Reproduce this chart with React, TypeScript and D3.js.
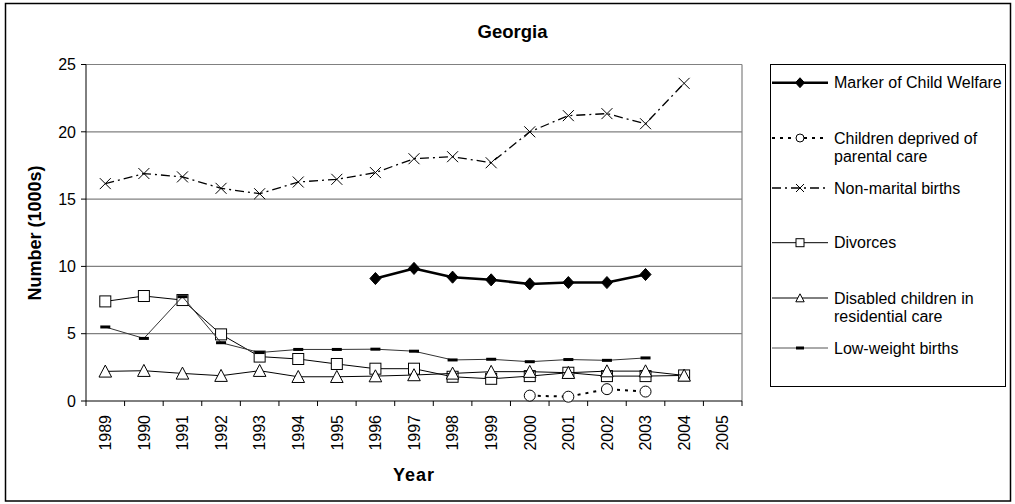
import React from 'react';
import * as d3 from 'd3';

const years = ['1989','1990','1991','1992','1993','1994','1995','1996','1997','1998','1999','2000','2001','2002','2003','2004','2005'];
const yTicks = [0, 5, 10, 15, 20, 25];

const childWelfare = [null,null,null,null,null,null,null,9.1,9.85,9.2,9.0,8.7,8.8,8.8,9.4,null,null];
const deprivedCare = [null,null,null,null,null,null,null,null,null,null,null,0.4,0.32,0.88,0.7,null,null];
const nonMarital = [16.15,16.9,16.65,15.8,15.4,16.27,16.47,16.97,18.0,18.15,17.7,20.0,21.2,21.35,20.6,23.6,null];
const divorces = [7.4,7.8,7.5,4.95,3.3,3.12,2.75,2.4,2.4,1.8,1.65,1.85,2.1,1.85,1.85,1.9,null];
const disabled = [2.2,2.25,2.05,1.88,2.25,1.8,1.8,1.85,1.93,2.05,2.18,2.18,2.1,2.22,2.22,1.9,null];
const lowWeight = [5.5,4.65,7.75,4.33,3.6,3.83,3.83,3.85,3.7,3.05,3.1,2.92,3.08,3.02,3.2,null,null];

const seriesNames = [
  ['Marker of Child Welfare'],
  ['Children deprived of', 'parental care'],
  ['Non-marital births'],
  ['Divorces'],
  ['Disabled children in', 'residential care'],
  ['Low-weight births'],
];

type Style = { width: number; dash?: string; marker: string; color: string };
const styles: Style[] = [
  { width: 2.5, marker: 'diamond', color: '#000' },
  { width: 2, dash: '3,5', marker: 'circle', color: '#000' },
  { width: 1.3, dash: '9,4,2,4', marker: 'x', color: '#000' },
  { width: 1, marker: 'square', color: '#000' },
  { width: 1, marker: 'triangle', color: '#000' },
  { width: 1, marker: 'dash', color: '#333' },
];
const seriesData = [childWelfare, deprivedCare, nonMarital, divorces, disabled, lowWeight];

const FONT = "'Liberation Sans', Arial, sans-serif";

function Marker({ kind, x, y, s }: { kind: string; x: number; y: number; s: number }) {
  switch (kind) {
    case 'diamond':
      return <path d={`M${x},${y - s * 1.1}L${x + s},${y}L${x},${y + s * 1.1}L${x - s},${y}Z`} fill="#000" stroke="#000" />;
    case 'circle':
      return <circle cx={x} cy={y} r={s} fill="#fff" stroke="#000" strokeWidth={1} />;
    case 'x':
      return <path d={`M${x - s},${y - s}L${x + s},${y + s}M${x - s},${y + s}L${x + s},${y - s}`} stroke="#000" strokeWidth={1} fill="none" />;
    case 'square':
      return <rect x={x - s} y={y - s} width={2 * s} height={2 * s} fill="#fff" stroke="#000" strokeWidth={1} />;
    case 'triangle':
      return <path d={`M${x},${y - s * 1.05}L${x + s * 1.05},${y + s * 0.95}L${x - s * 1.05},${y + s * 0.95}Z`} fill="#fff" stroke="#000" strokeWidth={1} />;
    case 'dash':
      return <rect x={x - s} y={y - 1.5} width={2 * s} height={3} fill="#000" />;
    default:
      return null;
  }
}

export default function App() {
  const W = 1015, H = 504;
  const left = 86, right = 742, top = 64.5, bottom = 401;
  const x = d3.scaleBand<string>().domain(years).range([left, right]).padding(0);
  const y = d3.scaleLinear().domain([0, 25]).range([bottom, top]);
  const bw = x.bandwidth();
  const cx = (i: number) => (x(years[i]) as number) + bw / 2;

  const line = d3.line<number | null>()
    .defined((d) => d !== null)
    .x((_, i) => cx(i))
    .y((d) => y(d as number));

  const markerSizes = [5.5, 5.5, 5.5, 5.5, 6, 5];

  const legX = 770, legY = 64, legW = 235, legH = 322;
  const legRows = [82.7, 138, 188, 242.7, 298, 348];
  const lineX1 = legX + 2, lineX2 = legX + 58, mX = legX + 30, textX = legX + 64;

  return (
    <svg width={W} height={H} style={{ position: 'absolute', left: 0, top: 0, fontFamily: FONT }}>
      <rect x={0} y={0} width={W} height={H} fill="#fff" />
      <rect x={5.5} y={3.5} width={1005} height={497.5} fill="none" stroke="#000" strokeWidth={1.5} />
      <text x={512.5} y={38} textAnchor="middle" fontSize={18.5} fontWeight="bold">Georgia</text>

      {yTicks.filter((t) => t > 0).map((t) => (
        <line key={t} x1={left} x2={right} y1={y(t)} y2={y(t)} stroke="#808080" strokeWidth={1.2} />
      ))}
      <line x1={right} x2={right} y1={top} y2={bottom} stroke="#808080" strokeWidth={1.2} />

      <line x1={left} x2={left} y1={top} y2={bottom} stroke="#000" strokeWidth={1} />
      <line x1={left} x2={right} y1={bottom} y2={bottom} stroke="#000" strokeWidth={1} />
      {yTicks.map((t) => (
        <g key={t}>
          <line x1={left - 5} x2={left} y1={y(t)} y2={y(t)} stroke="#000" />
          <text x={76} y={y(t)} dy="0.36em" textAnchor="end" fontSize={16}>{t}</text>
        </g>
      ))}
      {years.map((yr, i) => (
        <g key={yr}>
          <line x1={x(yr) as number} x2={x(yr) as number} y1={bottom} y2={bottom + 5} stroke="#000" />
          <text transform={`translate(${cx(i)},415) rotate(-90)`} dy="0.36em" textAnchor="end" fontSize={16}>{yr}</text>
        </g>
      ))}
      <line x1={right} x2={right} y1={bottom} y2={bottom + 5} stroke="#000" />

      <text x={414} y={481} textAnchor="middle" fontSize={18} fontWeight="bold" letterSpacing={1}>Year</text>
      <text transform={`translate(41,233) rotate(-90)`} textAnchor="middle" fontSize={18} fontWeight="bold">Number (1000s)</text>

      {seriesData.map((data, si) => {
        const st = styles[si];
        return (
          <g key={si}>
            <path d={line(data) || ''} fill="none" stroke={st.color} strokeWidth={st.width} strokeDasharray={st.dash} strokeLinejoin="round" />
            {data.map((v, i) => (v === null ? null : <Marker key={i} kind={st.marker} x={cx(i)} y={y(v)} s={markerSizes[si]} />))}
          </g>
        );
      })}

      <rect x={legX + 0.5} y={legY + 0.5} width={legW} height={legH} fill="#fff" stroke="#000" strokeWidth={1} />
      {seriesNames.map((names, si) => {
        const st = styles[si];
        const ly = legRows[si];
        return (
          <g key={si}>
            <line x1={lineX1} x2={lineX2} y1={ly} y2={ly} stroke={si === 5 ? '#555' : st.color} strokeWidth={st.width} strokeDasharray={st.dash} />
            <Marker kind={st.marker} x={mX} y={ly} s={si === 0 ? 4.5 : 4} />
            {names.map((n, k) => (
              <text key={k} x={textX} y={ly + k * 18.7} dy="0.36em" fontSize={16}>{n}</text>
            ))}
          </g>
        );
      })}
    </svg>
  );
}
